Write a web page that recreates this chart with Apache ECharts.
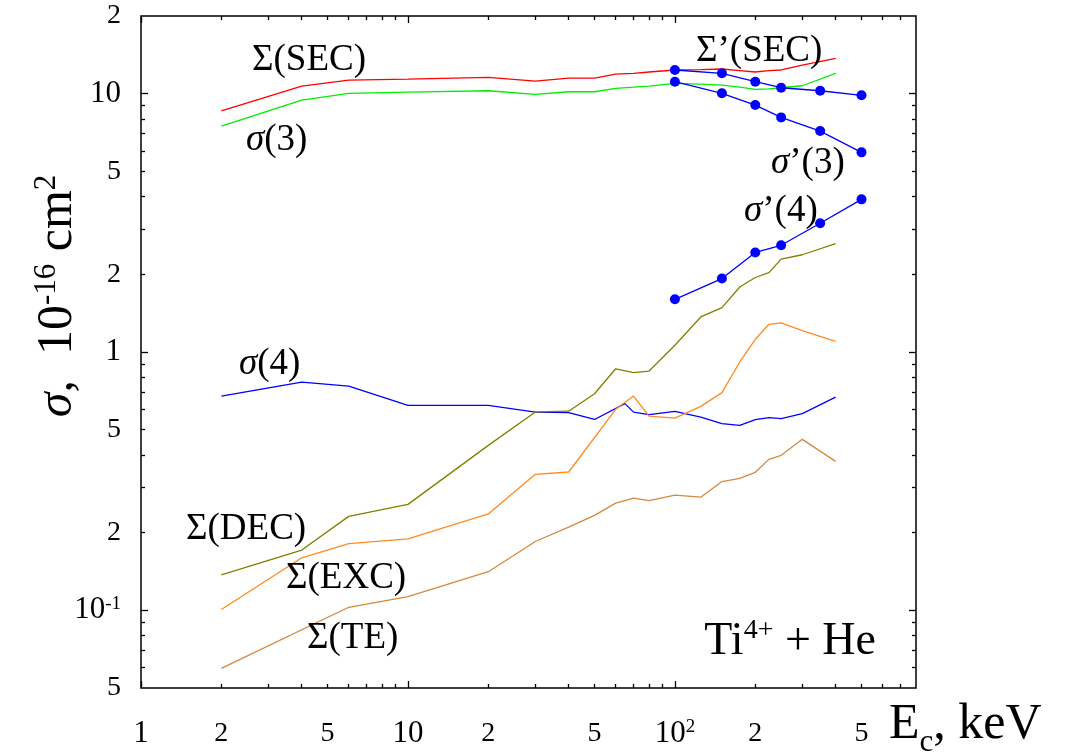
<!DOCTYPE html>
<html><head><meta charset="utf-8">
<script src="https://cdn.jsdelivr.net/npm/echarts@6/dist/echarts.min.js"></script>
<style>html,body{margin:0;padding:0;background:#fff}#c{width:1066px;height:755px}</style>
</head><body><div id="c"></div>
<script>
// ---- tick labels ----
const xTickLabelVals = [1, 2, 5, 10, 20, 50, 100, 200, 500];
const xTickLabels = ['{d|1}', '{n|2}', '{n|5}', '{d|10}', '{n|2}', '{n|5}', '{d|10}{sup|2}', '{n|2}', '{n|5}'];
const yTickLabelVals = [0.05, 0.1, 0.2, 0.5, 1, 2, 5, 10, 20];
const yTickLabels = ['{n|5}', '{d|10}{sup|-1}', '{n|2}', '{n|5}', '{d|1}', '{n|2}', '{n|5}', '{d|10}', '{n|2}'];
const xMajorTicks = [1, 10, 100];
const xMinorTicks = [2, 3, 4, 5, 6, 7, 8, 9, 20, 30, 40, 50, 60, 70, 80, 90, 200, 300, 400, 500, 600, 700];
const yMajorTicks = [0.1, 1, 10];
const yMinorTicks = [0.06, 0.07, 0.08, 0.09, 0.2, 0.3, 0.4, 0.5, 0.6, 0.7, 0.8, 0.9, 2, 3, 4, 5, 6, 7, 8, 9];

// ---- data (energy in keV, cross sections in 1e-16 cm^2) ----
const eSEC = [2, 4, 6, 10, 20, 30, 40, 50, 60, 70, 80, 100, 125, 150, 175, 200, 225, 250, 300, 400];
const vSEC = [8.59, 10.7, 11.3, 11.4, 11.58, 11.2, 11.5, 11.5, 11.92, 12.0, 12.14, 12.36, 12.4, 12.47, 12.3, 12.14, 12.3, 12.36, 12.9, 13.7];
const eS3 = [2, 4, 6, 10, 20, 30, 40, 50, 60, 70, 80, 100, 125, 150, 175, 200, 225, 250, 300, 400];
const vS3 = [7.50, 9.45, 10.04, 10.15, 10.27, 9.95, 10.18, 10.18, 10.49, 10.6, 10.71, 10.97, 10.9, 10.8, 10.6, 10.4, 10.45, 10.55, 10.74, 12.0];
const eS4 = [2, 4, 6, 10, 20, 30, 40, 50, 65, 70, 80, 100, 125, 150, 175, 200, 225, 250, 300, 400];
const vS4 = [0.675, 0.765, 0.738, 0.621, 0.621, 0.585, 0.582, 0.548, 0.631, 0.585, 0.572, 0.589, 0.560, 0.528, 0.520, 0.547, 0.557, 0.552, 0.577, 0.669];
const eDEC = [2, 4, 6, 10, 20, 30, 40, 50, 60, 70, 80, 100, 125, 150, 175, 200, 225, 250, 300, 400];
const vDEC = [0.137, 0.171, 0.231, 0.257, 0.435, 0.586, 0.590, 0.689, 0.861, 0.832, 0.844, 1.062, 1.367, 1.486, 1.786, 1.943, 2.03, 2.29, 2.38, 2.63];
const eEXC = [2, 4, 6, 10, 20, 30, 40, 60, 70, 80, 100, 125, 150, 175, 200, 225, 250, 300, 400];
const vEXC = [0.1007, 0.1596, 0.181, 0.189, 0.236, 0.336, 0.343, 0.600, 0.675, 0.565, 0.555, 0.616, 0.696, 0.915, 1.12, 1.28, 1.296, 1.21, 1.10];
const eTE = [2, 6, 10, 20, 30, 40, 50, 60, 70, 80, 100, 125, 150, 175, 200, 225, 250, 300, 400];
const vTE = [0.0596, 0.1027, 0.113, 0.141, 0.1846, 0.21, 0.233, 0.26, 0.272, 0.266, 0.279, 0.274, 0.315, 0.324, 0.342, 0.384, 0.398, 0.459, 0.377];
const ePrime = [100, 150, 200, 250, 350, 500];
const vSECp = [12.36, 12.0, 11.13, 10.55, 10.27, 9.86];
const vS3p = [11.13, 10.04, 9.04, 8.10, 7.17, 5.93];
const vS4p = [1.60, 1.925, 2.43, 2.59, 3.15, 3.90];

const FONT = '"Liberation Serif", "DejaVu Serif", serif';
const zip = (a, b) => a.map((v, i) => [v, b[i]]);
const pick = (vals, labels) => (v) => {
  for (let i = 0; i < vals.length; i++) if (Math.abs(Math.log10(v / vals[i])) < 0.005) return labels[i];
  return '';
};
const tickRich = {
  n: { fontFamily: FONT, fontSize: 28, color: '#000', lineHeight: 32 },
  d: { fontFamily: FONT, fontSize: 31, color: '#000', lineHeight: 32 },
  sup: { fontFamily: FONT, fontSize: 19, color: '#000', lineHeight: 12, verticalAlign: 'top' }
};
const tickLine = { color: '#000', width: 1.3 };

function xAx(pos, ticks, len, withLabels) {
  return {
    type: 'log', logBase: 10, min: 1, max: 800, position: pos,
    axisLine: { show: false }, splitLine: { show: false }, minorTick: { show: false },
    axisTick: { show: true, inside: true, length: len, lineStyle: tickLine, customValues: ticks },
    axisLabel: withLabels ? { show: true, customValues: xTickLabelVals, formatter: pick(xTickLabelVals, xTickLabels), margin: 30, fontSize: 28, fontFamily: FONT, color: '#000', rich: tickRich } : { show: false }
  };
}
function yAx(pos, ticks, len, withLabels) {
  return {
    type: 'log', logBase: 10, min: 0.05, max: 20, position: pos,
    axisLine: { show: false }, splitLine: { show: false }, minorTick: { show: false },
    axisTick: { show: true, inside: true, length: len, lineStyle: tickLine, customValues: ticks },
    axisLabel: withLabels ? { show: true, customValues: yTickLabelVals, formatter: pick(yTickLabelVals, yTickLabels), margin: 20, fontSize: 28, fontFamily: FONT, color: '#000', rich: tickRich } : { show: false }
  };
}

function line(name, e, v, color, sym) {
  return {
    name, type: 'line', xAxisIndex: 0, yAxisIndex: 0, data: zip(e, v),
    symbol: sym ? 'circle' : 'none', symbolSize: 10, showSymbol: !!sym,
    itemStyle: { color }, lineStyle: { color, width: 1.3 }, z: sym ? 5 : 3
  };
}

const annRich = {
  t: { fontFamily: FONT, fontSize: 37, color: '#000' },
  i: { fontFamily: FONT, fontSize: 37, fontStyle: 'italic', color: '#000' },
  big: { fontFamily: FONT, fontSize: 46, color: '#000', lineHeight: 50 },
  bsup: { fontFamily: FONT, fontSize: 28, color: '#000', lineHeight: 22, verticalAlign: 'top' }
};
function ann(x, y, text, align) {
  return { type: 'text', x, y, z: 100, style: { text, rich: annRich, align: align || 'left', verticalAlign: 'middle', fill: '#000', font: '37px ' + FONT } };
}

const chart = echarts.init(document.getElementById('c'), null, { renderer: 'canvas' });
chart.setOption({
  animation: false,
  backgroundColor: '#fff',
  grid: { left: 141, top: 16, right: 150, bottom: 67, show: true, borderColor: '#000', borderWidth: 1.5, backgroundColor: 'transparent' },
  xAxis: [xAx('bottom', xMajorTicks, 7, true), xAx('bottom', xMinorTicks, 4, false), xAx('top', xMajorTicks, 7, false), xAx('top', xMinorTicks, 4, false)],
  yAxis: [yAx('left', yMajorTicks, 7, true), yAx('left', yMinorTicks, 4, false), yAx('right', yMajorTicks, 7, false), yAx('right', yMinorTicks, 4, false)],
  series: [
    line('Σ(SEC)', eSEC, vSEC, '#ff0000'),
    line('σ(3)', eS3, vS3, '#00ee00'),
    line('σ(4)', eS4, vS4, '#0000ff'),
    line('Σ(DEC)', eDEC, vDEC, '#808000'),
    line('Σ(EXC)', eEXC, vEXC, '#ff8a20'),
    line('Σ(TE)', eTE, vTE, '#d4893f'),
    line("Σ'(SEC)", ePrime, vSECp, '#0000ff', true),
    line("σ'(3)", ePrime, vS3p, '#0000ff', true),
    line("σ'(4)", ePrime, vS4p, '#0000ff', true)
  ],
  graphic: [
    ann(252, 60, '{t|Σ(SEC)}'),
    ann(246, 140, '{i|σ}{t|(3)}'),
    ann(696, 51, '{t|Σ’(SEC)}'),
    ann(771, 163, '{i|σ}{t|’(3)}'),
    ann(744, 211, '{i|σ}{t|’(4)}'),
    ann(239, 364, '{i|σ}{t|(4)}'),
    ann(186, 529, '{t|Σ(DEC)}'),
    ann(286, 578, '{t|Σ(EXC)}'),
    ann(307, 638, '{t|Σ(TE)}'),
    ann(876, 642, '{big|Ti}{bsup|4+}{big| + He}', 'right'),
    {
      type: 'text', x: 889, y: 724, z: 100,
      style: { text: '{a|E}{s|c}{a|, keV}', align: 'left', verticalAlign: 'middle',
        rich: { a: { fontFamily: FONT, fontSize: 50, color: '#000', lineHeight: 52, verticalAlign: 'bottom' },
                s: { fontFamily: FONT, fontSize: 31, color: '#000', lineHeight: 30, verticalAlign: 'bottom', padding: [0, 0, -8, 0] } } }
    },
    {
      type: 'text', x: 58, y: 296, rotation: Math.PI / 2, z: 100,
      style: { text: '{i|σ}{a|,  10}{s|-16}{a| cm}{s|2}', align: 'center', verticalAlign: 'middle',
        rich: { a: { fontFamily: FONT, fontSize: 50, color: '#000', lineHeight: 54 },
                i: { fontFamily: FONT, fontSize: 50, fontStyle: 'italic', color: '#000', lineHeight: 54 },
                s: { fontFamily: FONT, fontSize: 31, color: '#000', lineHeight: 26, verticalAlign: 'top' } } }
    }
  ]
});
</script></body></html>
